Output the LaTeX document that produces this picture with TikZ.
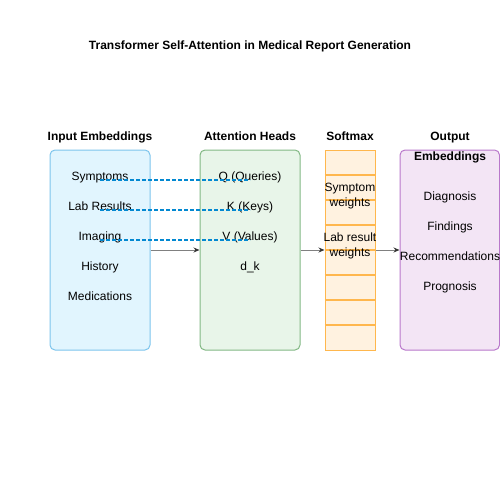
\documentclass[tikz,border=0pt]{standalone}
\usepackage{fontspec}
\setmainfont{Liberation Sans}
\usetikzlibrary{arrows.meta}

\definecolor{inFill}{HTML}{E1F5FE}
\definecolor{inLine}{HTML}{7CC4EC}
\definecolor{attFill}{HTML}{E8F5E9}
\definecolor{attLine}{HTML}{82B884}
\definecolor{smFill}{HTML}{FFF2E0}
\definecolor{smLine}{HTML}{FFB74D}
\definecolor{outFill}{HTML}{F3E5F5}
\definecolor{outLine}{HTML}{B978CB}
\definecolor{dashBlue}{HTML}{0288D1}
\definecolor{arrowLine}{HTML}{808080}
\definecolor{arrowHead}{HTML}{333333}

\begin{document}
\begin{tikzpicture}[x=1pt,y=-1pt,
  every node/.style={font=\fontsize{12}{15}\selectfont,inner sep=0pt},
  box/.style={draw,line width=1pt,rounded corners=5pt,minimum width=100pt,minimum height=200pt},
  head/.style={font=\fontsize{12}{20}\selectfont\bfseries,align=center,anchor=base},
  item/.style={anchor=base},
  flow/.style={draw=arrowLine,line width=1pt,-{Stealth[length=6pt,width=5pt,color=arrowHead]}},
  link/.style={draw=dashBlue,line width=2pt,dash pattern=on 4pt off 2pt}]

  \useasboundingbox (0,0) rectangle (500,500);

  % title
  \node[font=\fontsize{12}{15}\selectfont\bfseries,anchor=base] (title) at (250,49.5) {Transformer Self-Attention in Medical Report Generation};

  % columns
  \node[box,draw=inLine,fill=inFill] (inp) at (100,250) {};
  \node[box,draw=attLine,fill=attFill] (att) at (250,250) {};
  \node[box,draw=smLine,fill=smFill,minimum width=50pt,rounded corners=0pt] (smx) at (350,250) {};
  \node[box,draw=outLine,fill=outFill,minimum width=99.5pt] (out) at (449.75,250) {};

  \foreach \y in {175,200,...,325}
    \draw[smLine,line width=1.2pt] (smx.west |- 0,\y) -- (smx.east |- 0,\y);

  % headings
  \node[head] (inpT) at (100,140.5) {Input Embeddings};
  \node[head] (attT) at (250,140.5) {Attention Heads};
  \node[head] (smxT) at (350,140.5) {Softmax};
  \node[head,anchor=center] (outT) at (450,148) {Output\\Embeddings};

  % input items
  \node[item] (sym) at (100,180) {Symptoms};
  \node[item] (lab) at (100,210) {Lab Results};
  \node[item] (img) at (100,240) {Imaging};
  \node[item] (his) at (100,270) {History};
  \node[item] (med) at (100,300) {Medications};

  % attention items
  \node[item] (q) at (250,180) {Q (Queries)};
  \node[item] (k) at (250,210) {K (Keys)};
  \node[item] (v) at (250,240) {V (Values)};
  \node[item] (dk) at (250,270) {d\_k};

  % softmax weights
  \node[align=center] (wsym) at (350,196.5) {Symptom\\weights};
  \node[align=center] (wlab) at (350,245.5) {Lab result\\weights};

  % output items
  \node[item] (dia) at (450,200.5) {Diagnosis};
  \node[item] (fin) at (450,230.5) {Findings};
  \node[item] (rec) at (450,260.5) {Recommendations};
  \node[item] (pro) at (450,290.5) {Prognosis};

  % attention links
  \draw[link] (sym.base) -- (sym.base -| q.base);
  \draw[link] (lab.base) -- (lab.base -| k.base);
  \draw[link] (img.base) -- (img.base -| v.base);

  % flow
  \path (inp.east) edge[flow] (att.west)
        (att.east) edge[flow] (smx.west)
        (smx.east) edge[flow] (out.west);
\end{tikzpicture}
\end{document}
